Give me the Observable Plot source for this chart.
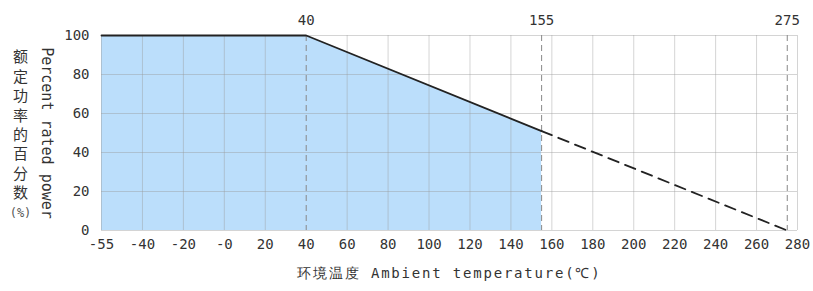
<!DOCTYPE html>
<html><head><meta charset="utf-8">
<script src="https://cdn.jsdelivr.net/npm/d3@7"></script>
<script src="https://cdn.jsdelivr.net/npm/@observablehq/plot@0.6"></script>
<style>body{margin:0;background:#fff}</style>
</head><body><div id="chart"></div>
<script>
const xTicks = [-55, -40, -20, 0, 20, 40, 60, 80, 100, 120, 140, 160, 180, 200, 220, 240, 260, 280];
const xTickLabels = ["-55", "-40", "-20", "-0", "20", "40", "60", "80", "100", "120", "140", "160", "180", "200", "220", "240", "260", "280"];
const yTicks = [0, 20, 40, 60, 80, 100];
const markerTemps = [40, 155, 275];
const ratedTemp = [-55, 40, 155];
const ratedPower = [100, 100, 51];
const extTemp = [155, 275];
const extPower = [51, 0];
const yTitleZh = ["额", "定", "功", "率", "的", "百", "分", "数"];
const yTitleUnit = "(%)";
const yTitleEn = "Percent rated power";
const xTitle = "环境温度 Ambient temperature(℃)";

const rated = ratedTemp.map((t, i) => ({t, p: ratedPower[i]}));
const ext = extTemp.map((t, i) => ({t, p: extPower[i]}));
const mono = "'DejaVu Sans Mono', monospace";

const W = 813, ML = 101, MR = 16;
// evenly spaced tick positions (the original axis compresses -55..-40 into one step)
const xRange = xTicks.map((_, i) => ML + i * (W - ML - MR) / (xTicks.length - 1));

const plot = Plot.plot({
  width: W, height: 291,
  marginLeft: ML, marginRight: MR, marginTop: 35, marginBottom: 61,
  style: {fontFamily: mono, fontSize: "14px", color: "#333", background: "#fff"},
  x: {type: "linear", domain: xTicks, range: xRange, ticks: xTicks, tickFormat: d => xTickLabels[xTicks.indexOf(d)], tickSize: 0, tickPadding: 9,
      label: xTitle, labelAnchor: "center", labelOffset: 47, labelArrow: "none"},
  y: {domain: [0, 100], ticks: yTicks, tickSize: 0, tickPadding: 12, label: null},
  marks: [
    Plot.areaY(rated, {x: "t", y: "p", fill: "#bbdefb"}),
    Plot.ruleY(yTicks, {stroke: "#999", strokeOpacity: 0.42}),
    Plot.ruleX(xTicks.filter(t => !markerTemps.includes(t)), {stroke: "#999", strokeOpacity: 0.42}),
    Plot.ruleX(markerTemps, {stroke: "#888", strokeDasharray: "6,4"}),
    Plot.line(rated, {x: "t", y: "p", stroke: "#222", strokeWidth: 1.8}),
    Plot.line(ext, {x: "t", y: "p", stroke: "#222", strokeWidth: 1.8, strokeDasharray: "11,7"}),
    Plot.text(markerTemps, {x: d => d, text: d => String(d), frameAnchor: "top", dy: -20, fontSize: 14, fill: "#333"}),
    Plot.text([yTitleZh.join("\n")], {frameAnchor: "left", textAnchor: "middle", dx: -81, dy: -9, lineHeight: 1.3, fontSize: 15, fill: "#333", fontFamily: "'Noto Sans CJK SC'"}),
    Plot.text([yTitleUnit], {frameAnchor: "bottom-left", textAnchor: "middle", dx: -81, dy: -14, fontSize: 12, fill: "#555"}),
    Plot.text([yTitleEn], {frameAnchor: "left", textAnchor: "middle", dx: -55, rotate: 90, fontSize: 15, fill: "#333"})
  ]
});
d3.select(plot).selectAll('[aria-label="x-axis label"] text')
  .attr("letter-spacing", "1.8px")
  .text(function() { return this.textContent.replace(/\s*[→←]\s*/g, ""); });
document.getElementById("chart").append(plot);
</script>
</body></html>
